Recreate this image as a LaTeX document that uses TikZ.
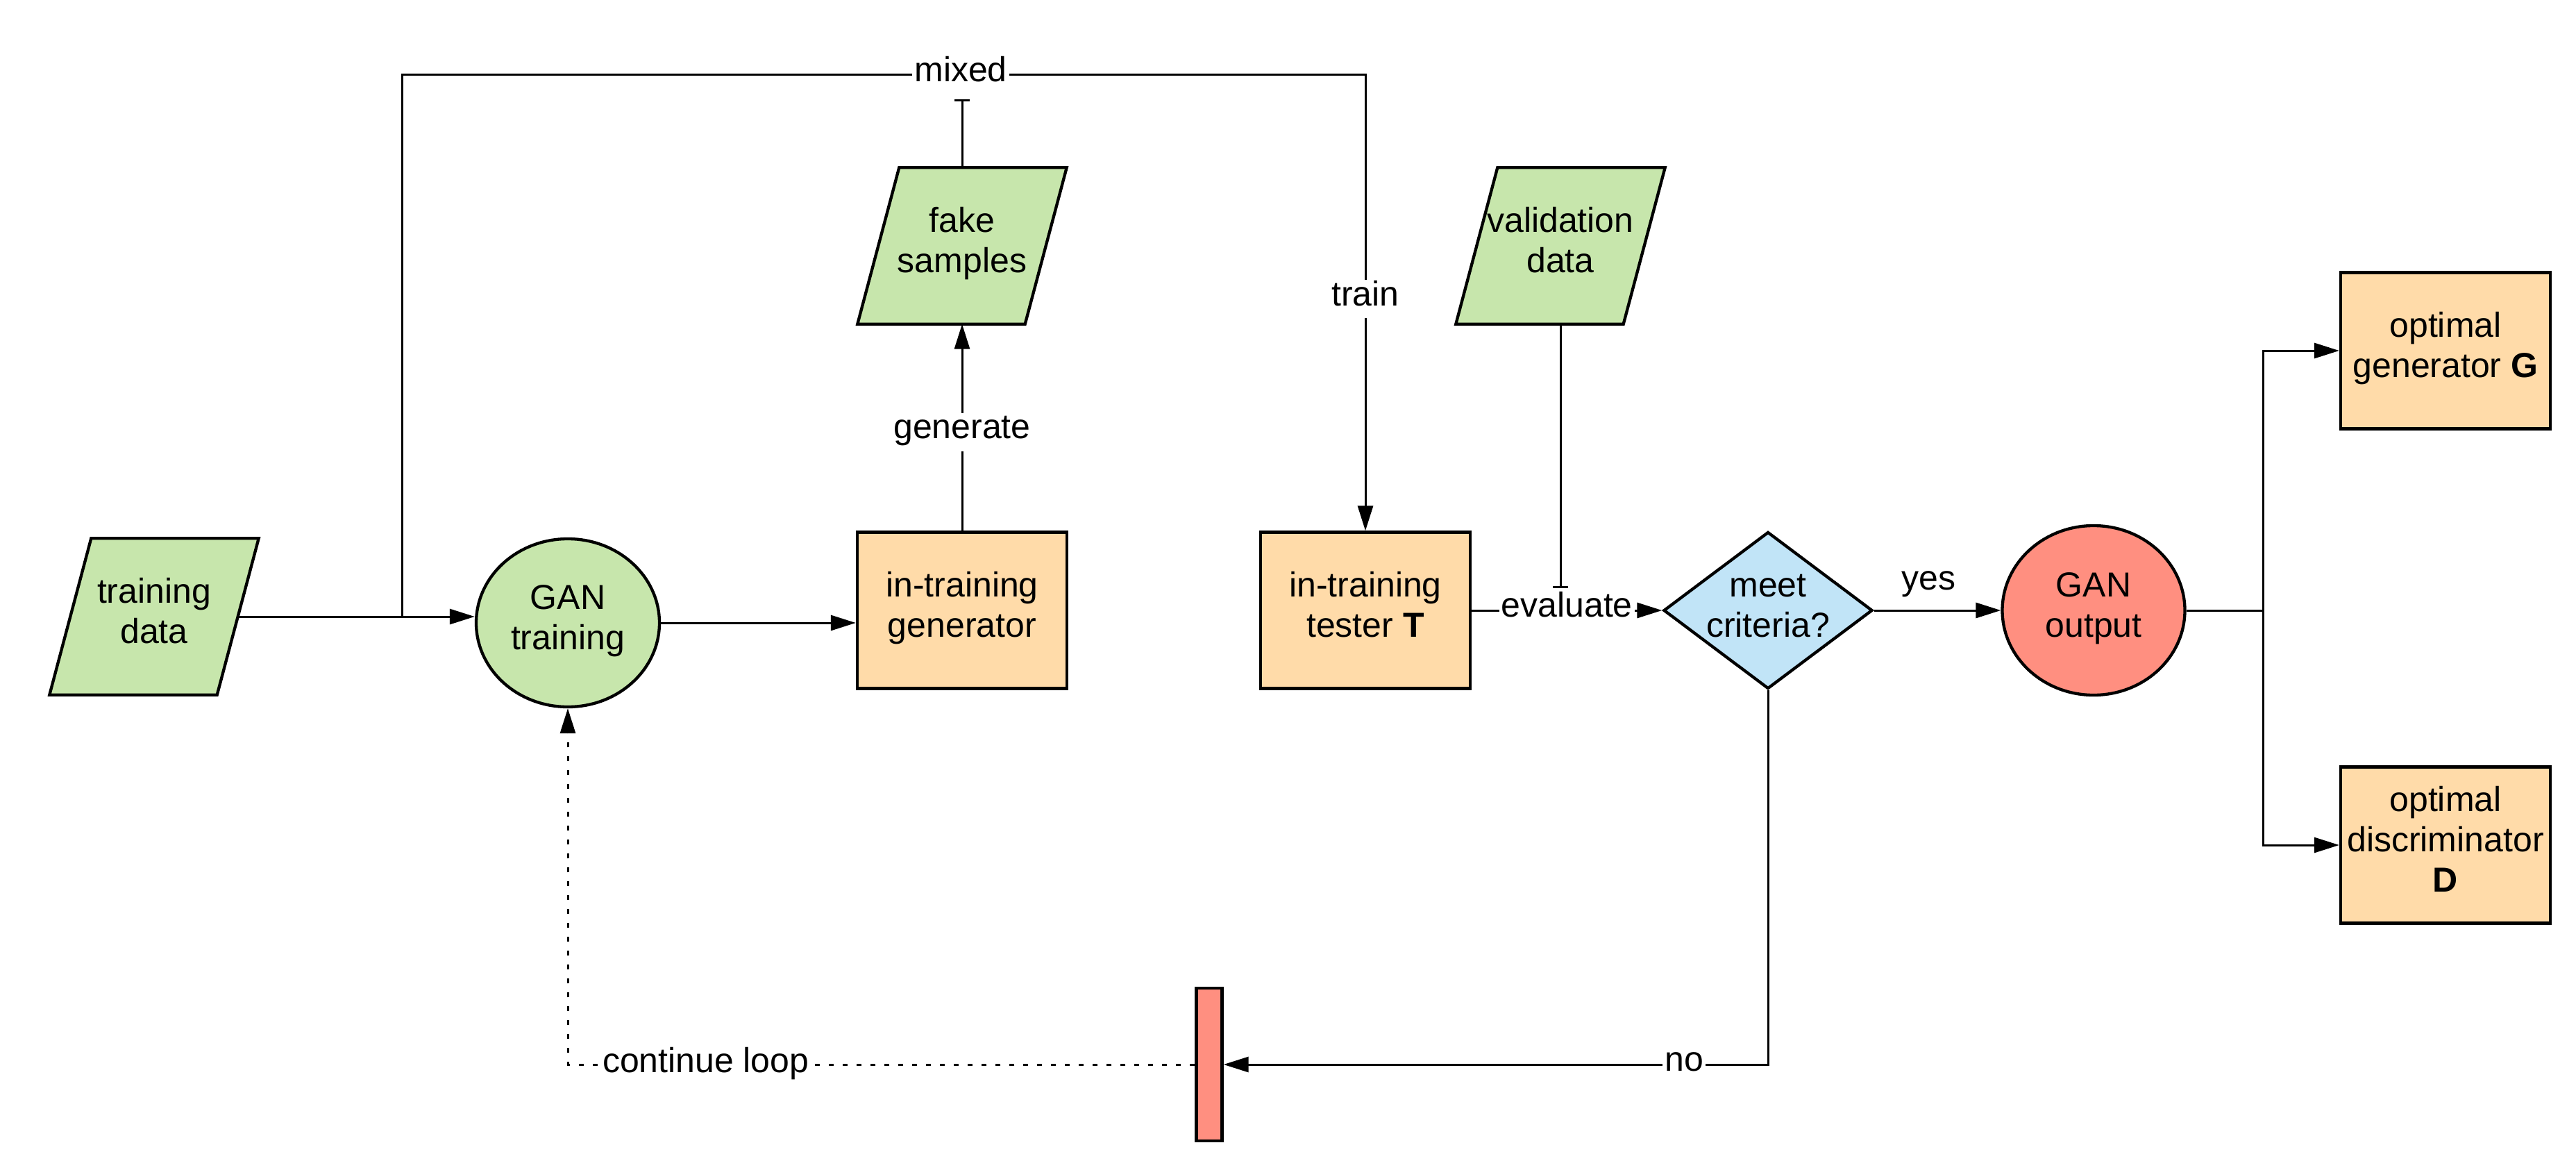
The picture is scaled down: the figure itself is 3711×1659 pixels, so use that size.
\documentclass[tikz,border=0pt]{standalone}
\usepackage{fontspec}
\setmainfont{Liberation Sans}
\usetikzlibrary{shapes.geometric,arrows.meta,calc,backgrounds}
\definecolor{gfill}{RGB}{199,230,172}
\definecolor{ofill}{RGB}{255,219,169}
\definecolor{bfill}{RGB}{193,228,247}
\definecolor{rfill}{RGB}{255,143,128}
\newcommand\ls{\rule[-18pt]{0pt}{55pt}}
\newcommand\dataplg[3]{%
  \node[datab] (#1) at (#2) {#3};
  \begin{scope}[on background layer]
    \draw[line width=4.3pt, fill=gfill]
      ($(#1.north west)+(30,0)$) -- ($(#1.north east)+(30,0)$) --
      ($(#1.south east)+(-30,0)$) -- ($(#1.south west)+(-30,0)$) -- cycle;
  \end{scope}}
\begin{document}
\begin{tikzpicture}[x=1pt,y=-1pt,
  txt/.style={font=\fontsize{50}{58}\selectfont, align=center},
  box/.style={txt, draw, line width=4.3pt, fill=ofill, minimum width=302pt, minimum height=225pt, inner sep=0pt},
  datab/.style={txt, minimum width=241pt, minimum height=225pt, inner sep=0pt},
  ell/.style={txt, ellipse, draw, line width=4.3pt, inner sep=0pt},
  conn/.style={line width=3pt},
  arr/.style={conn, -{Triangle[length=36pt,width=22pt]}},
  teearr/.style={conn, -{Bar[width=22pt,line width=3pt]}},
  lbl/.style={txt, fill=white, inner xsep=3pt, inner ysep=0pt},
]
\begin{scope}[on background layer]
  \fill[white] (0,0) rectangle (3711,1659);
\end{scope}
\useasboundingbox (0,0) rectangle (3711,1659);

% nodes
\dataplg{train}{222,888}{\ls training\\\ls data}
\node[ell, fill=gfill, minimum width=264pt, minimum height=242pt] (gan) at (818,897) {\ls GAN\\\ls training};
\node[box] (gen) at (1386,879) {\ls in-training\\\ls generator};
\dataplg{fake}{1386,354}{\ls fake\\\ls samples}
\node[box] (tester) at (1967,879) {\ls in-training\\\ls tester \textbf{T}};
\dataplg{valid}{2248,354}{\ls validation\\\ls data}
\node[diamond, draw, line width=4.3pt, fill=bfill, inner sep=0pt,
      minimum width=301pt, minimum height=226pt] (dia) at (2547,879) {};
\node[txt, inner sep=0pt] (diatxt) at (dia.center) {\ls meet\\\ls criteria?};
\node[ell, fill=rfill, minimum width=263pt, minimum height=244pt] (out) at (3016,879) {\ls GAN\\\ls output};
\node[box] (optG) at (3523,505) {\ls optimal\\\ls generator \textbf{G}};
\node[box] (optD) at (3523,1217) {\ls optimal\\\ls discriminator\\\ls\textbf{D}};
\node[draw, line width=4.3pt, fill=rfill, minimum width=37pt, minimum height=220pt, inner sep=0pt] (bar) at (1742,1533) {};

% connectors
\coordinate (j) at (579,888);
\coordinate (tl) at (579,108);
\coordinate (tr) at (1967,108);
\coordinate (tee1) at (1386,143);
\coordinate (tee2) at (2248,847);
\coordinate (br) at (3260,879);

\draw[arr] (train.east) -- (train.east -| gan.west);
\draw[arr] (j) -- (tl) -- node[lbl,pos=0.58]{\ls mixed} (tr) -- node[lbl,pos=0.492]{\ls train} (tester.north);
\draw[arr] (gan.east) -- (gan.east -| gen.west);
\draw[arr] (gen.north) -- node[lbl,pos=0.477]{\ls generate} (fake.south);
\draw[teearr] (fake.north) -- (tee1);
\draw[teearr] (valid.south) -- (tee2);
\draw[arr] (tester.east) -- node[lbl,pos=0.5]{\ls evaluate} (dia.west);
\draw[arr] (dia.east) -- node[txt, above=18pt, inner sep=0pt, pos=0.43]{yes} (out.west);
\draw[arr] (dia.south) |- node[lbl,pos=0.577]{\ls no} (bar.east);
\draw[arr, dash pattern=on 7pt off 13pt] (bar.west) -| node[lbl,pos=0.39,yshift=-2pt]{\ls continue loop} (gan.south);
\draw[conn] (out.east) -- (br);
\draw[arr] (br) |- (optG.west);
\draw[arr] (br) |- (optD.west);
\end{tikzpicture}
\end{document}
